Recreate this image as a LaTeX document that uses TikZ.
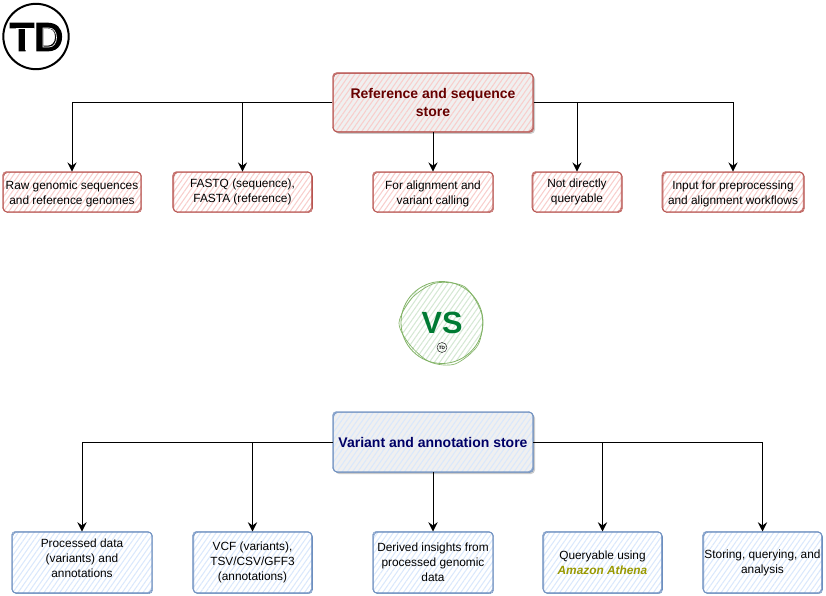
\documentclass[tikz,border=0pt]{standalone}
\usepackage{fontspec}
\setmainfont{Liberation Sans}
\newfontfamily\logofont[FakeBold=3]{Liberation Sans Bold}
\usetikzlibrary{arrows.meta,patterns.meta,shadows}
\definecolor{redline}{HTML}{B85450}
\definecolor{redhatch}{HTML}{F8CECC}
\definecolor{blueline}{HTML}{6C8EBF}
\definecolor{bluehatch}{HTML}{DAE8FC}
\definecolor{greenline}{HTML}{82B366}
\definecolor{greenhatch}{HTML}{D5E8D4}
\definecolor{redtitle}{HTML}{660000}
\definecolor{bluetitle}{HTML}{000066}
\definecolor{vsgreen}{HTML}{007A33}
\definecolor{athena}{HTML}{999900}
\newcommand{\lowered}{\rule{0pt}{9.5pt}}
\newcommand{\raised}{\rule[-6.8pt]{0pt}{6.8pt}}
\tikzset{
  hatched/.style={pattern={Lines[angle=55,distance=3.2pt,line width=.8pt]},pattern color=#1},
  twice/.style={postaction={draw=#1,line width=.4pt,rounded corners=4pt,transform canvas={shift={(.5pt,-.4pt)}}},
    postaction={draw=#1,line width=.3pt,rounded corners=2.5pt,transform canvas={shift={(-.4pt,.4pt)}}}},
  redbox/.style={draw=redline,line width=.5pt,rounded corners=3pt,hatched=redhatch,twice=redline,
    align=center,font=\fontsize{8.9}{11.25}\selectfont,inner sep=0pt},
  bluebox/.style={draw=blueline,line width=.5pt,rounded corners=3pt,hatched=bluehatch,twice=blueline,
    align=center,font=\fontsize{8.9}{11.25}\selectfont,inner sep=0pt},
  redtop/.style={redbox,drop shadow={opacity=.2,shadow xshift=1.5pt,shadow yshift=-1.5pt,fill=black},
    preaction={fill=black!6},font=\fontsize{10.5}{13}\selectfont\bfseries,text=redtitle},
  bluetop/.style={bluebox,drop shadow={opacity=.2,shadow xshift=1.5pt,shadow yshift=-1.5pt,fill=black},
    preaction={fill=black!6},font=\fontsize{10.5}{13}\selectfont\bfseries,text=bluetitle},
  feed/.style={draw=black,line width=.75pt,-{Stealth[length=7pt,width=7pt,inset=2.5pt]}},
}
\begin{document}
\begin{tikzpicture}[x=.75pt,y=-.75pt]
\useasboundingbox (0,0) rectangle (826,596);

% logo
\node[circle,draw=black,line width=1.5pt,minimum size=49pt,inner sep=0pt] (logo) at (36,36.5) {};
\node[font=\logofont\fontsize{30}{30}\selectfont,inner sep=0pt] (logotext) at (36.5,37) {TD};
\draw[white,line width=.5pt] (16,28) -- (34,28) (25,28) -- (25,50);
\draw[white,line width=.5pt] (43,28) -- (49,28) .. controls (59,28) and (59,47) .. (49,47) -- (43,47) -- cycle;

% top store
\node[redtop,minimum width=150pt,minimum height=44pt] (refstore) at (433,102.5) {Reference and sequence\\store};
\foreach \name/\xpos/\wid/\txt in {
  rawseq/72/103.5/{\lowered Raw genomic sequences\\and reference genomes},
  fastq/242.5/104/{FASTQ (sequence),\\FASTA (reference)},
  align/433/90/{\lowered For alignment and\\variant calling},
  noquery/577/67/{Not directly\\queryable},
  input/733/106/{\lowered Input for preprocessing\\and alignment workflows}}
  \node[redbox,minimum width=\wid pt,minimum height=30pt] (\name) at (\xpos,192) {\txt};
\foreach \name in {rawseq,fastq}
  \draw[feed] (refstore.west) -| (\name.north);
\foreach \name in {noquery,input}
  \draw[feed] (refstore.east) -| (\name.north);
\draw[feed] (refstore.south) -- (align.north);

% vs mark
\node[circle,draw=greenline,line width=.6pt,hatched=greenhatch,minimum size=61.5pt,inner sep=0pt,
  font=\fontsize{23}{23}\selectfont\bfseries,text=vsgreen] (vs) at (442,322.5) {VS};
\draw[greenline,line width=.5pt] plot[smooth cycle] coordinates {(399,323) (412,298) (436,283) (465,287)
  (482,315) (478,345) (455,364) (430,362) (410,345)};
\node[circle,draw=black,line width=.3pt,minimum size=7.5pt,inner sep=0pt,
  font=\fontsize{3.5}{3.5}\selectfont\bfseries] (vslogo) at (442,347.5) {TD};

% bottom store
\node[bluetop,minimum width=150pt,minimum height=45pt] (varstore) at (433,442) {Variant and annotation store};
\foreach \name/\xpos/\wid/\txt in {
  procdata/82/105/{Processed data\\(variants) and\\annotations\raised},
  vcf/252.5/89/{VCF (variants),\\TSV/CSV/GFF3\\(annotations)},
  derived/433/90/{Derived insights from\\processed genomic\\data},
  athenaq/602.5/89/{Queryable using\\{\color{athena}\bfseries\itshape Amazon Athena}},
  storing/762.5/89/{Storing, querying, and\\analysis}}
  \node[bluebox,minimum width=\wid pt,minimum height=46pt] (\name) at (\xpos,562.5) {\txt};
\foreach \name in {procdata,vcf}
  \draw[feed] (varstore.west) -| (\name.north);
\foreach \name in {athenaq,storing}
  \draw[feed] (varstore.east) -| (\name.north);
\draw[feed] (varstore.south) -- (derived.north);
\end{tikzpicture}
\end{document}
